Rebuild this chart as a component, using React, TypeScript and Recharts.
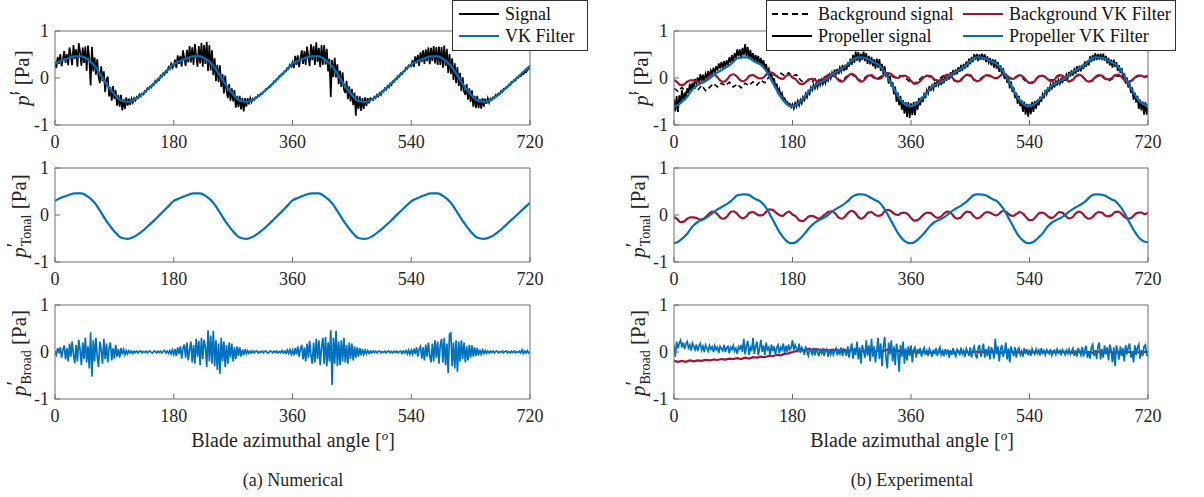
import React from 'react';
import { LineChart, Line, XAxis, YAxis } from 'recharts';

const BLUE = '#0072BD';
const RED = '#A2142F';
const FONT = '"Liberation Serif", "Times New Roman", "DejaVu Serif", serif';

const angleTicks = [0, 180, 360, 540, 720];
const pressureTicks = [-1, 0, 1];

// (a) Numerical — VK filter / tonal part, every 10 deg
const numTonal = [
  0.30, 0.37, 0.42, 0.46, 0.46, 0.39,
  0.26, 0.05, -0.17, -0.35, -0.48, -0.51,
  -0.46, -0.37, -0.25, -0.12, 0.02, 0.16,
  0.30, 0.36, 0.42, 0.46, 0.46, 0.39,
  0.26, 0.05, -0.17, -0.35, -0.48, -0.51,
  -0.46, -0.37, -0.25, -0.12, 0.02, 0.16,
  0.31, 0.37, 0.43, 0.46, 0.46, 0.38,
  0.25, 0.04, -0.18, -0.36, -0.49, -0.51,
  -0.46, -0.36, -0.24, -0.11, 0.03, 0.16,
  0.29, 0.36, 0.42, 0.46, 0.46, 0.39,
  0.26, 0.05, -0.17, -0.35, -0.48, -0.51,
  -0.47, -0.38, -0.26, -0.13, 0.00, 0.13,
  0.26,
];

// (a) Numerical — raw signal, every 2 deg
const numSignal = [
  .35, .21, .45, .30, .51, .25, .40, .57, .32, .51, .27, .65, .49, .27, .70, .41, .61, .24, .74, .56, .26, .65, .32, .67, .15, .69, .42, -.16, .66, .14,
  .44, .07, .40, .03, -.11, .25, -.07, .14, -.30, -.03, .03, -.39, -.20, -.48, -.17, -.45, -.26, -.59, -.36, -.61, -.36, -.69, -.45, -.66, -.41, -.59, -.44, -.57, -.44, -.52,
  -.43, -.48, -.40, -.43, -.35, -.39, -.33, -.35, -.28, -.29, -.22, -.24, -.18, -.20, -.13, -.14, -.06, -.09, -.02, -.04, .05, .03, .10, .07, .15, .13, .23, .19, .30, .21,
  .26, .39, .21, .48, .30, .47, .24, .59, .42, .26, .60, .33, .68, .33, .655, .28, .72, .48, .24, .68, .31, .75, .24, .70, .30, .77, .15, .70, .16, .59,
  .06, .42, -.07, .28, -.09, .27, -.19, .08, -.33, .05, -.27, -.43, -.13, -.48, -.22, -.50, -.26, -.63, -.38, -.62, -.38, -.67, -.42, -.71, -.43, -.61, -.43, -.56, -.43, -.51,
  -.44, -.47, -.41, -.42, -.36, -.38, -.33, -.34, -.29, -.28, -.23, -.23, -.19, -.19, -.14, -.13, -.07, -.08, -.03, -.02, .04, .04, .09, .08, .14, .14, .21, .20, .28, .24,
  .33, .21, .47, .28, .48, .23, .42, .59, .30, .57, .28, .67, .46, .25, .715, .38, .68, .28, .76, .34, .64, .23, .70, .28, .70, .29, .62, .14, .41, -.41,
  .38, .02, .43, .01, .29, -.13, .16, -.19, .12, -.25, -.32, -.06, -.45, -.18, -.50, -.23, -.58, -.31, -.80, -.38, -.66, -.39, -.70, -.43, -.66, -.41, -.60, -.43, -.54, -.43,
  -.45, -.47, -.40, -.43, -.36, -.39, -.32, -.36, -.28, -.29, -.22, -.25, -.17, -.20, -.12, -.15, -.07, -.08, -.03, -.03, .04, .03, .10, .08, .14, .14, .22, .20, .27, .26,
  .25, .38, .23, .46, .31, .49, .26, .55, .34, .59, .30, .61, .36, .65, .295, .64, .36, .68, .31, .66, .28, .67, .28, .66, .22, .69, .25, .62, .11, .51,
  .08, .42, -.04, .31, -.11, .23, -.17, .11, -.28, .02, -.29, -.36, -.13, -.46, -.22, -.51, -.26, -.61, -.38, -.64, -.38, -.64, -.45, -.65, -.43, -.61, -.44, -.55, -.43, -.52,
  -.44, -.47, -.41, -.43, -.36, -.38, -.33, -.35, -.28, -.30, -.23, -.24, -.19, -.20, -.14, -.15, -.08, -.09, -.04, -.05, .01, .00, .05, .04, .09, .08, .13, .12, .17, .19,
  .26,
];

// (a) Numerical — broadband part, every 2 deg
const numBroad = [
  .02, -.06, .08, -.03, .10, -.12, .05, .14, -.16, .08, -.20, .18, -.10, .22, -.05, -.24, .15, -.20, .26, .05, -.28, .20, -.15, .30, -.22, .12, -.35, .42, -.52, .25,
  -.20, .30, -.10, -.32, .22, .05, -.25, .28, -.15, .18, -.22, .10, .20, -.18, .08, -.14, .15, -.10, .06, -.12, .08, -.05, .05, -.06, .03, -.04, .03, -.02, .02, -.03,
  .02, -.01, .02, -.02, .01, .02, -.02, .01, -.01, .02, -.02, .01, .02, -.01, -.02, .02, .01, -.02, .02, -.01, .02, -.02, .01, .03, -.02, .02, -.03, .03, -.04, .05,
  -.05, .06, -.08, .10, -.04, .12, -.14, .08, .16, -.12, .20, -.18, .05, .22, -.22, .15, -.25, .28, -.10, .24, -.28, .30, -.15, .26, .10, -.32, .46, -.20, .35, -.25,
  .45, -.30, .25, -.38, .18, -.46, .30, -.20, .22, -.32, .15, -.25, .20, -.12, .18, -.20, .10, -.15, .12, -.08, .10, -.10, .05, -.06, .06, -.04, .03, -.03, .02, -.02,
  .02, -.02, .01, .02, -.02, .01, -.01, .02, -.02, .01, .02, -.02, -.01, .02, .01, -.02, .02, -.01, .02, -.02, .01, -.02, .03, -.02, .02, -.03, .04, -.03, .05, -.05,
  .04, -.07, .08, -.05, .12, -.10, .06, .15, -.16, .10, -.20, .18, -.12, .24, -.08, -.25, .20, -.22, .28, -.15, .25, -.28, .10, .30, -.25, .32, -.30, .20, -.20, .46,
  -.70, .30, -.25, .45, -.30, .22, -.28, .25, -.20, .30, -.22, .15, -.25, .20, -.15, .18, -.18, .12, -.12, .10, -.10, .08, -.07, .06, -.05, .04, -.04, .03, -.03, .02,
  -.02, .02, -.01, .02, -.02, .01, .02, -.02, .01, -.01, .02, -.02, .01, .02, -.02, .01, -.02, .02, -.01, .02, -.02, .01, .02, -.03, .02, -.02, .03, -.04, .04, -.05,
  .04, -.05, .07, -.04, .10, -.10, .06, .12, -.14, .10, -.18, .16, -.10, .20, -.08, -.22, .18, -.20, .25, -.12, .22, -.25, .15, .28, -.22, .30, -.28, .18, -.45, .38,
  .40, -.30, .20, -.35, .25, -.42, .22, -.20, .25, -.15, .20, -.22, .12, -.18, .15, -.12, .14, -.10, .10, -.08, .08, -.07, .05, -.05, .04, -.03, .03, -.03, .02, -.02,
  .02, -.01, .02, -.02, .01, .02, -.02, .01, -.01, .02, -.02, .01, .02, -.02, .01, -.02, .02, -.01, .02, -.02, .01, -.01, .02, -.02, .05, -.03, .02, -.02, .03, -.02,
  .00,
];

// (b) Experimental — propeller VK filter, every 5 deg
const expPropTonal = [
  -0.60, -0.58, -0.53, -0.47, -0.40, -0.30, -0.22, -0.16, -0.12, -0.09, -0.05, 0.00,
  0.06, 0.11, 0.15, 0.19, 0.23, 0.28, 0.34, 0.41, 0.43, 0.44, 0.44, 0.42,
  0.37, 0.33, 0.30, 0.24, 0.15, 0.03, -0.10, -0.23, -0.36, -0.46, -0.54, -0.59,
  -0.60, -0.58, -0.52, -0.45, -0.37, -0.28, -0.21, -0.15, -0.11, -0.08, -0.04, 0.01,
  0.07, 0.12, 0.16, 0.20, 0.25, 0.31, 0.38, 0.42, 0.44, 0.44, 0.43, 0.40,
  0.36, 0.32, 0.29, 0.22, 0.12, 0.00, -0.13, -0.26, -0.38, -0.48, -0.55, -0.59,
  -0.60, -0.58, -0.53, -0.46, -0.39, -0.30, -0.22, -0.16, -0.12, -0.09, -0.05, 0.00,
  0.06, 0.11, 0.15, 0.19, 0.24, 0.29, 0.36, 0.42, 0.44, 0.44, 0.43, 0.41,
  0.37, 0.33, 0.30, 0.23, 0.14, 0.02, -0.11, -0.24, -0.37, -0.47, -0.54, -0.59,
  -0.60, -0.58, -0.53, -0.46, -0.39, -0.29, -0.21, -0.15, -0.11, -0.08, -0.04, 0.01,
  0.07, 0.12, 0.16, 0.20, 0.24, 0.29, 0.36, 0.42, 0.44, 0.44, 0.43, 0.41,
  0.37, 0.33, 0.30, 0.23, 0.14, 0.02, -0.11, -0.24, -0.36, -0.46, -0.53, -0.57,
  -0.58,
];

// (b) Experimental — background VK filter, every 5 deg
const expBgTonal = [
  -0.04, -0.09, -0.15, -0.14, -0.08, -0.05, -0.05, -0.07, -0.10, -0.08, -0.02, 0.05,
  0.07, 0.03, -0.05, -0.08, -0.04, 0.05, 0.08, 0.04, -0.04, -0.07, -0.03, 0.05,
  0.06, 0.02, -0.01, 0.00, 0.07, 0.12, 0.11, 0.05, 0.00, -0.02, 0.04, 0.07,
  0.01, -0.03, -0.11, -0.13, -0.09, -0.03, -0.02, -0.05, -0.08, -0.04, 0.02, 0.07,
  0.08, 0.03, -0.05, -0.08, -0.03, 0.05, 0.09, 0.05, -0.04, -0.08, -0.03, 0.05,
  0.06, 0.01, -0.02, 0.00, 0.08, 0.11, 0.08, 0.02, 0.00, 0.04, 0.05, 0.02,
  -0.06, -0.12, -0.11, -0.05, 0.02, 0.05, 0.04, -0.02, -0.06, -0.04, 0.03, 0.07,
  0.05, -0.03, -0.08, -0.06, 0.02, 0.07, 0.06, -0.02, -0.07, -0.05, 0.02, 0.06,
  0.05, 0.01, -0.01, 0.04, 0.09, 0.06, 0.00, -0.02, 0.02, 0.06, 0.03, -0.05,
  -0.11, -0.10, -0.03, 0.04, 0.05, 0.01, -0.05, -0.06, 0.00, 0.06, 0.05, -0.02,
  -0.07, -0.05, 0.03, 0.07, 0.04, -0.04, -0.08, -0.05, 0.02, 0.06, 0.05, -0.01,
  -0.03, 0.00, 0.06, 0.07, 0.02, -0.05, -0.08, -0.06, 0.01, 0.05, 0.05, 0.02,
  0.05,
];

// (b) Experimental — background raw signal, every 6 deg
const expBgSignal = [
  -0.22, -0.28, -0.20, -0.30, -0.24, -0.18, -0.26, -0.16, -0.27, -0.20,
  -0.12, -0.19, -0.11, -0.16, -0.09, -0.19, -0.13, -0.21, -0.11, -0.16,
  -0.08, -0.15, -0.05, -0.10, 0.02, 0.08, 0.04, 0.10, 0.05, 0.11,
  0.04, 0.07, -0.04, -0.11, -0.05, -0.08, 0.00, -0.06, 0.03, 0.01,
  0.07, 0.02, -0.06, -0.02, 0.05, 0.08, 0.02, -0.06, -0.02, 0.05,
  0.04, -0.02, 0.01, 0.07, 0.10, 0.04, 0.01, 0.05, 0.03, -0.03,
  -0.10, -0.12, -0.04, 0.03, 0.05, 0.01, -0.05, -0.03, 0.04, 0.07,
  0.02, -0.06, -0.07, 0.00, 0.07, 0.04, -0.05, -0.06, 0.01, 0.06,
  0.04, 0.00, 0.01, 0.08, 0.06, -0.01, -0.01, 0.05, 0.02, -0.07,
  -0.10, -0.08, 0.01, 0.05, 0.02, -0.05, -0.04, 0.04, 0.05, -0.02,
  -0.08, -0.03, 0.05, 0.06, -0.02, -0.07, -0.06, 0.03, 0.05, -0.01,
  -0.06, -0.02, 0.05, 0.04, -0.04, -0.08, -0.05, 0.02, 0.05, 0.03,
  0.04,
];

// (b) Experimental — propeller raw signal, every 2 deg
const expPropSignal = [
  -.45, -.71, -.385, -.72, -.37, -.55, -.26, -.48, -.31, -.45, -.22, -.32, -.12, -.26, -.10, -.22, -.02, -.11, .01, -.12, .08, -.06, .07, -.07, .09, .01, .15, .02, .16, .08,
  .22, .10, .25, .16, .31, .20, .34, .20, .36, .24, .38, .27, .44, .33, .49, .34, .53, .42, .61, .46, .61, .42, .64, .48, .72, .46, .66, .43, .60, .39,
  .53, .35, .49, .34, .47, .28, .43, .27, .38, .19, .30, .12, .19, .00, .11, -.08, .00, -.20, -.12, -.29, -.23, -.36, -.32, -.46, -.43, -.50, -.50, -.58, -.55, -.62,
  -.56, -.65, -.535, -.61, -.49, -.58, -.47, -.54, -.41, -.47, -.34, -.41, -.28, -.34, -.20, -.26, -.14, -.22, -.11, -.20, -.07, -.15, -.04, -.13, -.03, -.11, .02, -.05, .07, -.01,
  .11, .02, .18, .08, .19, .08, .22, .14, .28, .15, .28, .17, .33, .24, .41, .28, .49, .32, .56, .37, .55, .34, .52, .38, .56, .36, .53, .30, .47, .29,
  .45, .25, .40, .20, .41, .22, .40, .15, .30, .07, .25, .02, .11, -.12, .05, -.18, -.09, -.35, -.18, -.51, -.31, -.58, -.38, -.68, -.47, -.76, -.51, -.83, -.51, -.85,
  -.54, -.79, -.505, -.79, -.50, -.68, -.43, -.58, -.40, -.51, -.35, -.43, -.26, -.33, -.17, -.28, -.16, -.24, -.09, -.19, -.05, -.15, -.04, -.15, -.02, -.11, .04, -.06, .07, -.03,
  .12, .03, .17, .06, .18, .08, .23, .13, .28, .15, .30, .20, .35, .23, .41, .29, .45, .34, .51, .38, .51, .36, .50, .39, .52, .38, .50, .34, .46, .33,
  .42, .27, .40, .22, .39, .20, .34, .13, .27, .09, .21, -.02, .10, -.10, .01, -.22, -.07, -.30, -.20, -.43, -.31, -.55, -.38, -.60, -.47, -.72, -.50, -.78, -.55, -.82,
  -.55, -.77, -.505, -.72, -.49, -.65, -.46, -.58, -.40, -.51, -.35, -.43, -.26, -.34, -.20, -.29, -.14, -.22, -.11, -.20, -.05, -.16, -.04, -.12, -.02, -.11, .04, -.06, .07, -.01,
  .13, .03, .16, .05, .18, .09, .25, .13, .26, .14, .28, .19, .35, .24, .37, .27, .46, .34, .49, .37, .53, .38, .51, .39, .52, .38, .52, .37, .47, .31,
  .43, .27, .39, .22, .39, .24, .34, .15, .27, .11, .21, .00, .10, -.12, .01, -.20, -.10, -.32, -.20, -.46, -.31, -.52, -.38, -.66, -.46, -.69, -.50, -.78, -.51, -.78,
  -.62,
];

// (b) Experimental — propeller broadband, every 2 deg
const expPropBroad = [
  .15, -.10, .22, .08, .18, .25, .10, .20, .06, .17, .22, .09, .15, .03, .19, .12, .05, .16, .02, .13, .18, .04, .12, .00, .15, .08, .02, .14, .06, .11,
  .00, .13, .05, .10, -.02, .12, .07, .03, .15, .00, .09, .12, -.03, .10, .05, .14, .02, .08, -.04, .11, .06, .15, .00, .28, -.05, .12, .24, -.06, .10, .02,
  .30, -.04, .12, .22, -.07, .08, .26, .00, .14, -.06, .20, .05, .10, -.08, .16, .02, .12, -.05, .09, .15, -.03, .10, .04, .18, -.02, .13, .00, .16, .05, .09,
  .25, .04, .15, .08, .02, .18, -.02, .10, .05, -.06, .12, .00, -.08, .06, .02, -.05, .09, -.07, .04, .00, -.09, .07, -.03, .05, -.08, .03, .06, -.10, .04, -.05,
  .06, -.06, .02, .08, -.07, .03, -.04, .10, -.09, .05, .00, -.08, .12, -.12, .06, .18, -.14, .08, -.06, .22, -.16, .10, -.25, .15, .02, -.12, .25, -.08, .14, -.20,
  .28, -.10, .12, -.22, .05, .30, -.15, .18, -.30, .10, .32, -.12, -.35, .20, -.05, .25, -.20, .12, -.28, .18, .00, -.42, .15, -.10, .22, -.25, .08, -.18, .12, -.08,
  .14, -.22, .05, .10, -.12, .06, -.04, .08, -.10, .02, .09, -.06, .03, -.08, .07, .00, -.10, .05, -.05, .08, -.08, .03, .10, -.06, .02, -.09, .06, -.03, .05, -.12,
  .04, -.06, .08, -.02, -.09, .06, .02, -.07, .09, -.04, .03, -.10, .07, .00, -.08, .10, -.12, .05, .12, -.06, -.14, .08, .15, -.10, .02, .18, -.12, .06, -.08, .12,
  -.16, .10, .03, -.14, .28, -.05, .12, -.20, .06, .15, -.10, .02, .20, -.16, .08, -.22, .12, .00, -.08, .10, -.12, .05, .09, -.06, .02, -.10, .08, -.04, .06, -.07,
  .05, -.08, .07, .00, -.05, .06, -.03, .04, -.07, .08, -.02, .03, -.06, .05, .01, -.04, .06, -.07, .02, .04, -.05, .06, -.02, .03, -.07, .05, .00, -.06, .04, -.03,
  .06, -.05, .02, .08, -.08, .04, -.10, .09, .00, -.07, .11, -.10, .05, .13, -.12, .02, -.14, .10, .16, -.08, .04, -.15, .12, .20, -.16, .06, -.12, .14, -.05, .10,
  -.18, .16, .04, -.22, .10, -.30, .14, .02, -.16, .12, -.08, .08, -.20, .15, -.05, .10, .18, -.12, .02, -.22, .14, -.06, .10, .16, -.14, .04, -.08, .12, .15, -.05,
  -.10,
];

// (b) Experimental — background broadband, every 6 deg
const expBgBroad = [
  -0.19, -0.21, -0.19, -0.21, -0.18, -0.20, -0.18, -0.19, -0.17, -0.18,
  -0.16, -0.17, -0.15, -0.16, -0.14, -0.15, -0.13, -0.15, -0.12, -0.14,
  -0.11, -0.12, -0.10, -0.11, -0.08, -0.09, -0.06, -0.07, -0.04, -0.03,
  0.00, 0.02, 0.04, 0.03, 0.06, 0.05, 0.06, 0.04, 0.05, 0.03,
  0.05, 0.04, 0.03, 0.05, 0.02, 0.04, 0.03, 0.02, 0.03, 0.01,
  0.03, 0.02, 0.04, 0.02, 0.05, 0.03, 0.04, 0.02, 0.03, 0.01,
  0.02, 0.00, 0.01, -0.01, 0.00, -0.02, 0.00, -0.01, 0.01, -0.01,
  0.00, -0.02, 0.01, -0.01, 0.00, -0.02, 0.01, 0.00, -0.01, 0.01,
  0.00, -0.01, 0.01, -0.02, 0.00, 0.01, -0.01, 0.00, -0.02, 0.01,
  0.00, -0.01, 0.01, 0.00, -0.02, 0.01, -0.01, 0.00, 0.01, -0.01,
  0.00, -0.02, 0.00, 0.01, -0.01, 0.00, -0.02, 0.01, 0.00, -0.01,
  0.01, -0.01, 0.00, -0.02, 0.01, 0.00, -0.01, 0.01, -0.02, 0.00,
  0.00,
];

type Pt = { angle: number; v: number };
const pts = (values: number[], step: number): Pt[] => values.map((v, i) => ({ angle: i * step, v }));

type Series = { id: string; data: Pt[]; color: string; width: number; smooth?: boolean; dash?: string };

const tickStyle = { fontSize: 18, fontFamily: FONT, fill: '#262626' };
const AXIS = '#6e6e6e';

function Panel({ x, y, w, h, series }: { x: number; y: number; w: number; h: number; series: Series[] }) {
  return (
    <div style={{ position: 'absolute', left: x - 60, top: y - 10 }}>
      <LineChart width={w + 90} height={h + 40} margin={{ top: 9, right: 29, left: 30, bottom: 0 }}>
        <XAxis xAxisId="b" dataKey="angle" type="number" domain={[0, 720]} ticks={angleTicks} allowDataOverflow
          orientation="bottom" height={30} tickSize={-5} tickMargin={15} stroke={AXIS} tick={tickStyle} interval={0} />
        <XAxis xAxisId="t" dataKey="angle" type="number" domain={[0, 720]} ticks={angleTicks} allowDataOverflow
          orientation="top" height={1} tickSize={-5} stroke={AXIS} tick={false} interval={0} />
        <YAxis yAxisId="l" type="number" domain={[-1, 1]} ticks={pressureTicks} allowDataOverflow
          width={30} tickSize={-5} tickMargin={11} stroke={AXIS} tick={tickStyle} interval={0} />
        <YAxis yAxisId="r" orientation="right" type="number" domain={[-1, 1]} ticks={pressureTicks} allowDataOverflow
          width={1} tickSize={-5} stroke={AXIS} tick={false} interval={0} />
        {series.map((s) => (
          <Line key={s.id} xAxisId="b" yAxisId="l" data={s.data} dataKey="v" type={s.smooth ? 'monotone' : 'linear'}
            stroke={s.color} strokeWidth={s.width} strokeDasharray={s.dash} strokeLinejoin="miter" dot={false} activeDot={false}
            isAnimationActive={false} />
        ))}
      </LineChart>
    </div>
  );
}

function YLabel({ cx, cy, sub }: { cx: number; cy: number; sub?: string }) {
  return (
    <div style={{
      position: 'absolute', left: cx, top: cy, transform: 'translate(-50%, -50%) rotate(-90deg)',
      whiteSpace: 'nowrap', fontFamily: FONT, fontSize: 21, color: '#262626', lineHeight: 1,
    }}>
      <span style={{ position: 'relative' }}>
        <i>p</i>
        <span style={{ position: 'absolute', left: '100%', top: -3 }}>′</span>
      </span>
      {sub ? <sub style={{ fontSize: 14, marginLeft: 1 }}>{sub}</sub> : <span>′</span>}
      <span>{' '}[Pa]</span>
    </div>
  );
}

function LegendItem({ x, y, color, dash, label }: { x: number; y: number; color: string; dash?: boolean; label: string }) {
  return (
    <div style={{ position: 'absolute', left: x, top: y - 10, height: 20, display: 'flex', alignItems: 'center', whiteSpace: 'nowrap' }}>
      <svg width={40} height={6} style={{ display: 'block', marginRight: 6 }}>
        <line x1={0} y1={3} x2={40} y2={3} stroke={color} strokeWidth={2} strokeDasharray={dash ? '6 4' : undefined} />
      </svg>
      <span style={{ fontFamily: FONT, fontSize: 18, color: '#111', lineHeight: 1 }}>{label}</span>
    </div>
  );
}

const textStyle = { position: 'absolute' as const, fontFamily: FONT, color: '#262626', whiteSpace: 'nowrap' as const, transform: 'translate(-50%, -50%)' };

export default function App() {
  const LX = 55, RX = 674, W = 475, WR = 474, H = 94;
  const rows = [31, 168, 305];

  const numTonalPts = pts(numTonal, 10);
  const propTonalPts = pts(expPropTonal, 5);
  const bgTonalPts = pts(expBgTonal, 5);

  return (
    <div style={{ position: 'absolute', left: 0, top: 0, width: 1204, height: 497, background: '#fff', overflow: 'hidden' }}>
      <Panel x={LX} y={rows[0]} w={W} h={H} series={[
        { id: 'sig', data: pts(numSignal, 2), color: '#000', width: 1.7 },
        { id: 'vk', data: numTonalPts, color: BLUE, width: 2.2, smooth: true },
      ]} />
      <Panel x={LX} y={rows[1]} w={W} h={H} series={[
        { id: 'tonal', data: numTonalPts, color: BLUE, width: 2.2, smooth: true },
      ]} />
      <Panel x={LX} y={rows[2]} w={W} h={H} series={[
        { id: 'broad', data: pts(numBroad, 2), color: BLUE, width: 1.7 },
      ]} />

      <Panel x={RX} y={rows[0]} w={WR} h={H} series={[
        { id: 'bgsig', data: pts(expBgSignal, 6), color: '#000', width: 1.6, dash: '5 3' },
        { id: 'propsig', data: pts(expPropSignal, 2), color: '#000', width: 1.7 },
        { id: 'bgvk', data: bgTonalPts, color: RED, width: 2.2, smooth: true },
        { id: 'propvk', data: propTonalPts, color: BLUE, width: 2.2, smooth: true },
      ]} />
      <Panel x={RX} y={rows[1]} w={WR} h={H} series={[
        { id: 'bgvk', data: bgTonalPts, color: RED, width: 2.2, smooth: true },
        { id: 'propvk', data: propTonalPts, color: BLUE, width: 2.2, smooth: true },
      ]} />
      <Panel x={RX} y={rows[2]} w={WR} h={H} series={[
        { id: 'bgbroad', data: pts(expBgBroad, 6), color: RED, width: 2.2 },
        { id: 'propbroad', data: pts(expPropBroad, 2), color: BLUE, width: 1.7 },
      ]} />

      <YLabel cx={22} cy={78} />
      <YLabel cx={22} cy={216} sub="Tonal" />
      <YLabel cx={22} cy={353} sub="Broad" />
      <YLabel cx={641} cy={78} />
      <YLabel cx={641} cy={216} sub="Tonal" />
      <YLabel cx={641} cy={353} sub="Broad" />

      <div style={{ ...textStyle, left: 293, top: 440, fontSize: 20 }}>Blade azimuthal angle [<sup style={{ fontSize: 13 }}><i>o</i></sup>]</div>
      <div style={{ ...textStyle, left: 912, top: 440, fontSize: 20 }}>Blade azimuthal angle [<sup style={{ fontSize: 13 }}><i>o</i></sup>]</div>
      <div style={{ ...textStyle, left: 293, top: 480, fontSize: 18 }}>(a) Numerical</div>
      <div style={{ ...textStyle, left: 912, top: 480, fontSize: 18 }}>(b) Experimental</div>

      <div style={{ position: 'absolute', left: 452, top: 0, width: 136, height: 51, border: '1px solid #333', background: '#fff', boxSizing: 'border-box' }} />
      <LegendItem x={459} y={14} color="#000" label="Signal" />
      <LegendItem x={459} y={36} color={BLUE} label="VK Filter" />

      <div style={{ position: 'absolute', left: 766, top: 0, width: 410, height: 51, border: '1px solid #333', background: '#fff', boxSizing: 'border-box' }} />
      <LegendItem x={772} y={14} color="#000" dash label="Background signal" />
      <LegendItem x={963} y={14} color={RED} label="Background VK Filter" />
      <LegendItem x={772} y={36} color="#000" label="Propeller signal" />
      <LegendItem x={963} y={36} color={BLUE} label="Propeller VK Filter" />
    </div>
  );
}
